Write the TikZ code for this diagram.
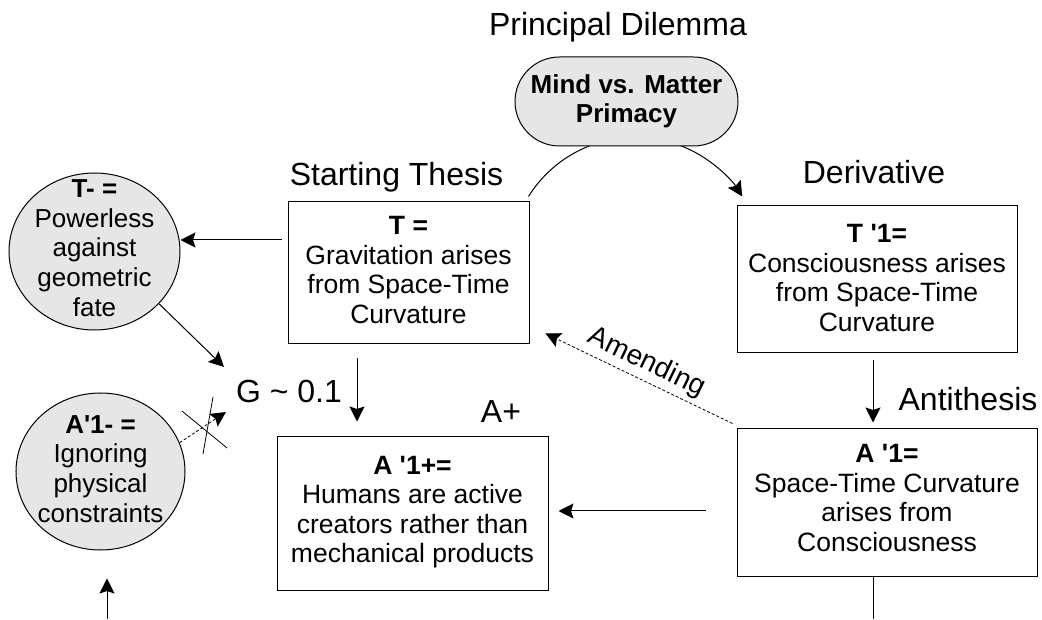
\documentclass[tikz,border=0pt]{standalone}
\usepackage{fontspec}
\setmainfont{Liberation Sans}
\usetikzlibrary{arrows.meta,shapes.geometric,calc}
\definecolor{fillg}{RGB}{230,230,230}
\newcommand{\sq}{\textquotesingle}
\tikzset{
  box/.style={draw, line width=1pt, align=center, inner sep=0pt, fill=white,
    font=\fontsize{26.5}{29.5}\selectfont},
  circ/.style={ellipse, draw, line width=1pt, fill=fillg, inner sep=0pt},
  ctext/.style={align=center, inner sep=0pt, font=\fontsize{26}{29.8}\selectfont},
  lbl/.style={anchor=base, inner sep=0pt, font=\fontsize{32}{36}\selectfont},
  arr/.style={line width=1pt, -{Stealth[length=15pt,width=15pt,inset=2.5pt]}},
  plain/.style={line width=1pt},
  dsh/.style={line width=0.8pt, dash pattern=on 3pt off 2pt}
}
\begin{document}
\begin{tikzpicture}[x=1pt,y=1pt]
\useasboundingbox (0,0) rectangle (1042,619);

% labels
\node[lbl] (pdl) at (618,583) {Principal Dilemma};
\node[lbl] (stl) at (396.5,433) {Starting Thesis};
\node[lbl] (dvl) at (874,435) {Derivative};
\node[lbl] (atl) at (968,208) {Antithesis};
\node[lbl] (g) at (289,216) {G \textasciitilde{} 0.1};
\node[lbl] (apl) at (501,196) {A+};

% boxes
\node[box, minimum width=241pt, minimum height=142pt] (thesis) at (408.5,346) {};
\node[box, draw=none, fill=none] (thesisT) at (408.5,349)
  {\textbf{T =}\\Gravitation arises\\from Space-Time\\Curvature};
\node[box, minimum width=280pt, minimum height=147pt] (deriv) at (877,339.5) {};
\node[box, draw=none, fill=none] (derivT) at (877,341)
  {\textbf{T \sq1=}\\Consciousness arises\\from Space-Time\\Curvature};
\node[box, minimum width=300pt, minimum height=147pt] (anti) at (887,116.5) {};
\node[box, draw=none, fill=none] (antiT) at (887,121)
  {\textbf{A \sq1=}\\Space-Time Curvature\\arises from\\Consciousness};
\node[box, minimum width=271pt, minimum height=153pt] (ap) at (412.5,105.5) {};
\node[box, draw=none, fill=none] (apT) at (412.5,107)
  {\textbf{A \sq1+=}\\Humans are active\\creators rather than\\mechanical products};

% arc from thesis over the dilemma to derivative
\draw[arr] ([shift={(-1,5)}]thesis.north east) arc[start angle=148, end angle=32, radius=126];

% dilemma stadium
\node[draw, line width=1pt, fill=fillg, rounded corners=44.5pt, minimum width=223pt,
  minimum height=89pt, align=center, inner sep=0pt,
  font=\fontsize{26}{29}\selectfont\bfseries] (pd) at (626.5,517.5)
  {Mind vs. Matter\\Primacy};

% circles
\node[circ, minimum width=171pt, minimum height=157pt] (tminus) at (94.5,367.5) {};
\node[ctext] (tminusT) at (94.5,371) {\textbf{T- =}\\Powerless\\against\\geometric\\fate};
\node[circ, minimum width=169pt, minimum height=157pt] (aminus) at (100.5,147.5) {};
\node[ctext] (aminusT) at (100.5,150) {\textbf{A\sq1- =}\\Ignoring\\physical\\constraints};

% connectors
\coordinate (s1) at ([shift={(-6,33)}]thesis.west);
\draw[arr] (s1) -- (s1 -| tminus.east);
\draw[arr] (tminus.-39) -- ([shift={(-65,36)}]g.base);
\draw[arr, dsh] (aminus.20) -- ([shift={(-63,-9)}]g.base);
\coordinate (x1a) at (182,208); \coordinate (x1b) at (227,171);
\coordinate (x2a) at (213,222); \coordinate (x2b) at (203,165);
\draw[line width=0.8pt] (x1a) -- (x1b);
\draw[line width=0.8pt] (x2a) -- (x2b);
\coordinate (bot1) at (107,0);
\draw[arr] (bot1) -- ([shift={(6.5,-28)}]aminus.south);

\draw[arr] ([shift={(-4,-7)}]deriv.south) -- ([shift={(-14,6)}]anti.north);
\draw[arr] ([shift={(-31,-8.5)}]anti.west) -- ([shift={(10,2.5)}]ap.east);
\draw[arr] ([shift={(-51.5,-14)}]thesis.south) -- ([shift={(-55.5,15)}]ap.north);
\draw[arr, dsh] ([shift={(-4,5)}]anti.north west) -- ([shift={(16,11)}]thesis.south east)
  node[midway, above, sloped, inner sep=4pt, font=\fontsize{28}{30}\selectfont] (amend) {Amending};
\coordinate (bot2) at (873,0);
\draw[plain] ([shift={(-14,0)}]anti.south) -- (bot2);
\end{tikzpicture}
\end{document}
